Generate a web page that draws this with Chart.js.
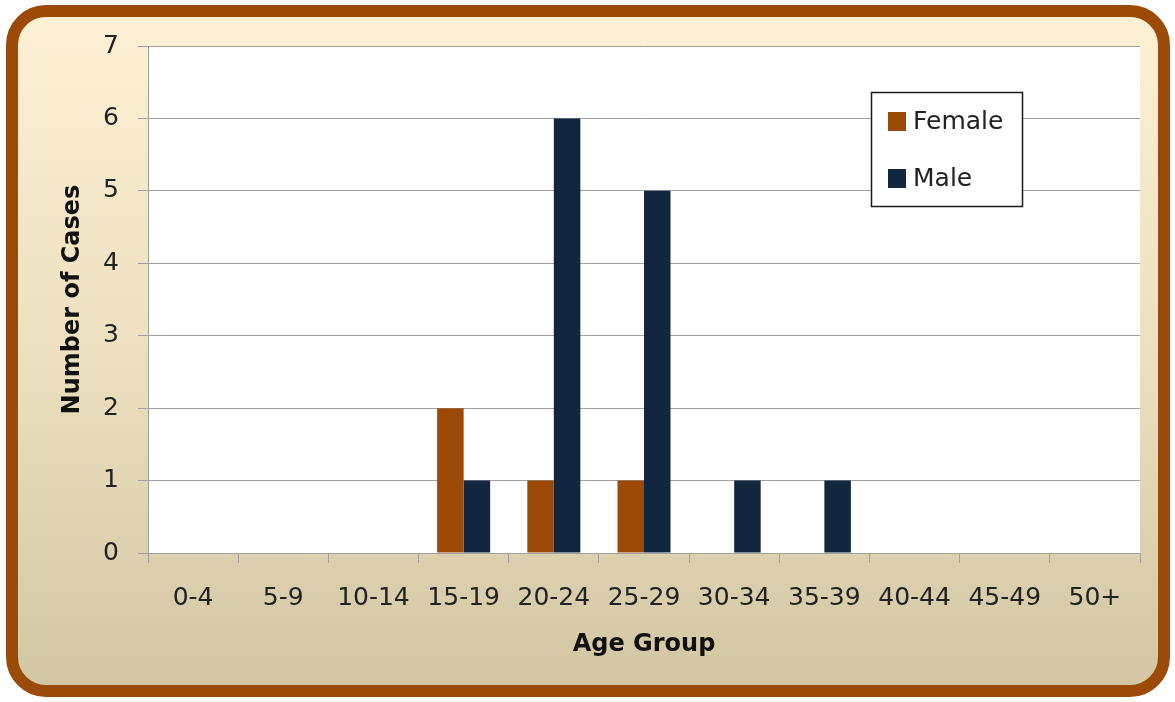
<!DOCTYPE html>
<html>
<head>
<meta charset="utf-8">
<script src="https://cdn.jsdelivr.net/npm/chart.js@4/dist/chart.umd.min.js"></script>
<style>
    html, body { margin: 0; padding: 0; width: 1175px; height: 702px; overflow: hidden; background: #ffffff; }
    #frame {
        position: absolute; left: 6px; top: 5px; width: 1140px; height: 668px;
        border: 12px solid #9b4a08; border-radius: 40px;
        background: linear-gradient(to bottom, #fdf0d4 0%, #ece0c0 50%, #d3c6a3 100%);
    }
    #chart { position: absolute; left: 0; top: 0; }
</style>
</head>
<body>
<div id="frame"></div>
<canvas id="chart" width="1175" height="702"></canvas>
<script>
var ageGroups = ['0-4', '5-9', '10-14', '15-19', '20-24', '25-29', '30-34', '35-39', '40-44', '45-49', '50+'];
var female = [0, 0, 0, 2, 1, 1, 0, 0, 0, 0, 0];
var male = [0, 0, 0, 1, 6, 5, 1, 1, 0, 0, 0];
var yTicks = [0, 1, 2, 3, 4, 5, 6, 7];

var femaleColor = '#9b4a08';
var maleColor = '#12263f';
var gridColor = '#a0a0a0';
var fontFamily = "'DejaVu Sans', sans-serif";

// white plot area behind the bars
var plotBackground = {
    id: 'plotBackground',
    beforeDraw: function (chart) {
        var a = chart.chartArea;
        var ctx = chart.ctx;
        ctx.save();
        ctx.fillStyle = '#ffffff';
        ctx.fillRect(a.left, a.top, a.right - a.left, a.bottom - a.top);
        ctx.restore();
    }
};

// boxed legend inside the plot, like the original
var boxLegend = {
    id: 'boxLegend',
    afterDraw: function (chart) {
        var ctx = chart.ctx;
        var x = 871, y = 92, w = 151, h = 114;
        ctx.save();
        ctx.fillStyle = '#ffffff';
        ctx.fillRect(x, y, w, h);
        ctx.strokeStyle = '#1a1a1a';
        ctx.lineWidth = 1.5;
        ctx.strokeRect(x + 0.5, y + 0.5, w, h);
        ctx.font = '25px ' + fontFamily;
        ctx.textBaseline = 'middle';
        chart.data.datasets.forEach(function (ds, i) {
            var cy = 121 + i * 57;
            ctx.fillStyle = ds.backgroundColor;
            ctx.fillRect(888, cy - 9, 18, 19);
            ctx.fillStyle = '#222222';
            ctx.fillText(ds.label, 913, cy + 1);
        });
        ctx.restore();
    }
};

var ctx = document.getElementById('chart');
var chart = new Chart(ctx, {
    type: 'bar',
    data: {
        labels: ageGroups,
        datasets: [
            { label: 'Female', data: female, backgroundColor: femaleColor, borderWidth: 0 },
            { label: 'Male', data: male, backgroundColor: maleColor, borderWidth: 0 }
        ]
    },
    options: {
        responsive: false,
        animation: false,
        categoryPercentage: 0.588,
        barPercentage: 1.0,
        layout: { padding: { left: 0, top: 46, right: 35, bottom: 0 } },
        plugins: {
            legend: { display: false },
            tooltip: { enabled: false }
        },
        scales: {
            x: {
                offset: true,
                grid: {
                    offset: true,
                    drawOnChartArea: false,
                    color: gridColor,
                    tickLength: 10
                },
                border: { color: gridColor },
                ticks: {
                    color: '#222222',
                    padding: 20,
                    maxRotation: 0,
                    autoSkip: false,
                    font: { family: fontFamily, size: 25 }
                },
                title: {
                    display: true,
                    text: 'Age Group',
                    color: '#111111',
                    padding: { top: 0, bottom: 43 },
                    font: { family: fontFamily, size: 24, weight: 'bold' }
                },
                afterFit: function (scale) { scale.height = 149; }
            },
            y: {
                min: 0,
                max: 7,
                afterBuildTicks: function (scale) {
                    scale.ticks = yTicks.map(function (v) { return { value: v }; });
                },
                grid: {
                    color: gridColor,
                    tickLength: 10
                },
                border: { color: gridColor },
                ticks: {
                    color: '#222222',
                    padding: 19,
                    font: { family: fontFamily, size: 25 }
                },
                title: {
                    display: true,
                    text: 'Number of Cases',
                    color: '#111111',
                    padding: { top: 58, bottom: 0 },
                    font: { family: fontFamily, size: 24, weight: 'bold' }
                },
                afterFit: function (scale) { scale.width = 148; }
            }
        }
    },
    plugins: [plotBackground, boxLegend]
});
</script>
</body>
</html>
